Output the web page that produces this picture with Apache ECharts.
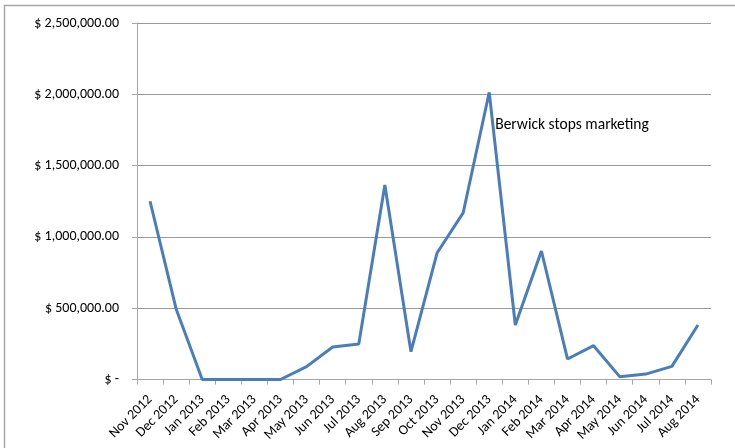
<!DOCTYPE html>
<html><head><meta charset="utf-8">
<script src="https://cdn.jsdelivr.net/npm/echarts@6/dist/echarts.min.js"></script>
<style>html,body{margin:0;padding:0;background:#fff}#c{width:735px;height:448px}</style>
</head><body><div id="c"></div>
<script>
const categories = ['Nov 2012','Dec 2012','Jan 2013','Feb 2013','Mar 2013','Apr 2013','May 2013','Jun 2013','Jul 2013','Aug 2013','Sep 2013','Oct 2013','Nov 2013','Dec 2013','Jan 2014','Feb 2014','Mar 2014','Apr 2014','May 2014','Jun 2014','Jul 2014','Aug 2014'];
const values = [1250000, 495000, 0, 0, 0, 0, 90000, 228000, 249000, 1364000, 195000, 887000, 1168000, 2014000, 382000, 901000, 144000, 237000, 20000, 38000, 92000, 382000];
const annotationText = 'Berwick stops marketing';
const annotationIndex = 13;

const chart = echarts.init(document.getElementById('c'));
const font = 'Carlito, "Open Sans", "Noto Sans", sans-serif';
function fmt(v){
  if (v === 0) return '$ -';
  return '$ ' + v.toLocaleString('en-US',{minimumFractionDigits:2,maximumFractionDigits:2});
}
chart.setOption({
  animation:false,
  grid:{left:137,right:24,top:23,bottom:68.5,containLabel:false},
  xAxis:{type:'category',data:categories,boundaryGap:true,
    axisLine:{lineStyle:{color:'#a6a6a6',width:1}},
    axisTick:{show:true,alignWithLabel:false,length:5,lineStyle:{color:'#a6a6a6'}},
    axisLabel:{interval:0,rotate:45,color:'#000',fontFamily:font,fontSize:14,margin:18}
  },
  yAxis:{type:'value',min:0,max:2500000,interval:500000,
    axisLine:{show:true,lineStyle:{color:'#a6a6a6',width:1}},
    axisTick:{show:true,length:5,lineStyle:{color:'#a6a6a6'}},
    splitLine:{lineStyle:{color:'#999',width:1}},
    axisLabel:{formatter:fmt,color:'#000',fontFamily:font,fontSize:14,margin:18}
  },
  series:[{type:'line',data:values,symbol:'none',lineStyle:{color:'#4a7ebb',width:3},
    markPoint:{symbol:'circle',symbolSize:0,
      data:[{coord:[annotationIndex, values[annotationIndex]],
        label:{show:true,formatter:annotationText,position:'right',offset:[1,33],
          color:'#000',fontFamily:font,fontSize:15.5}}]}
  }],
  graphic:[{type:'polyline',shape:{points:[[735,5.5],[4.5,5.5],[4.5,448]]},
    style:{stroke:'#a6a6a6',lineWidth:1.5,fill:null},silent:true}]
});
</script></body></html>
